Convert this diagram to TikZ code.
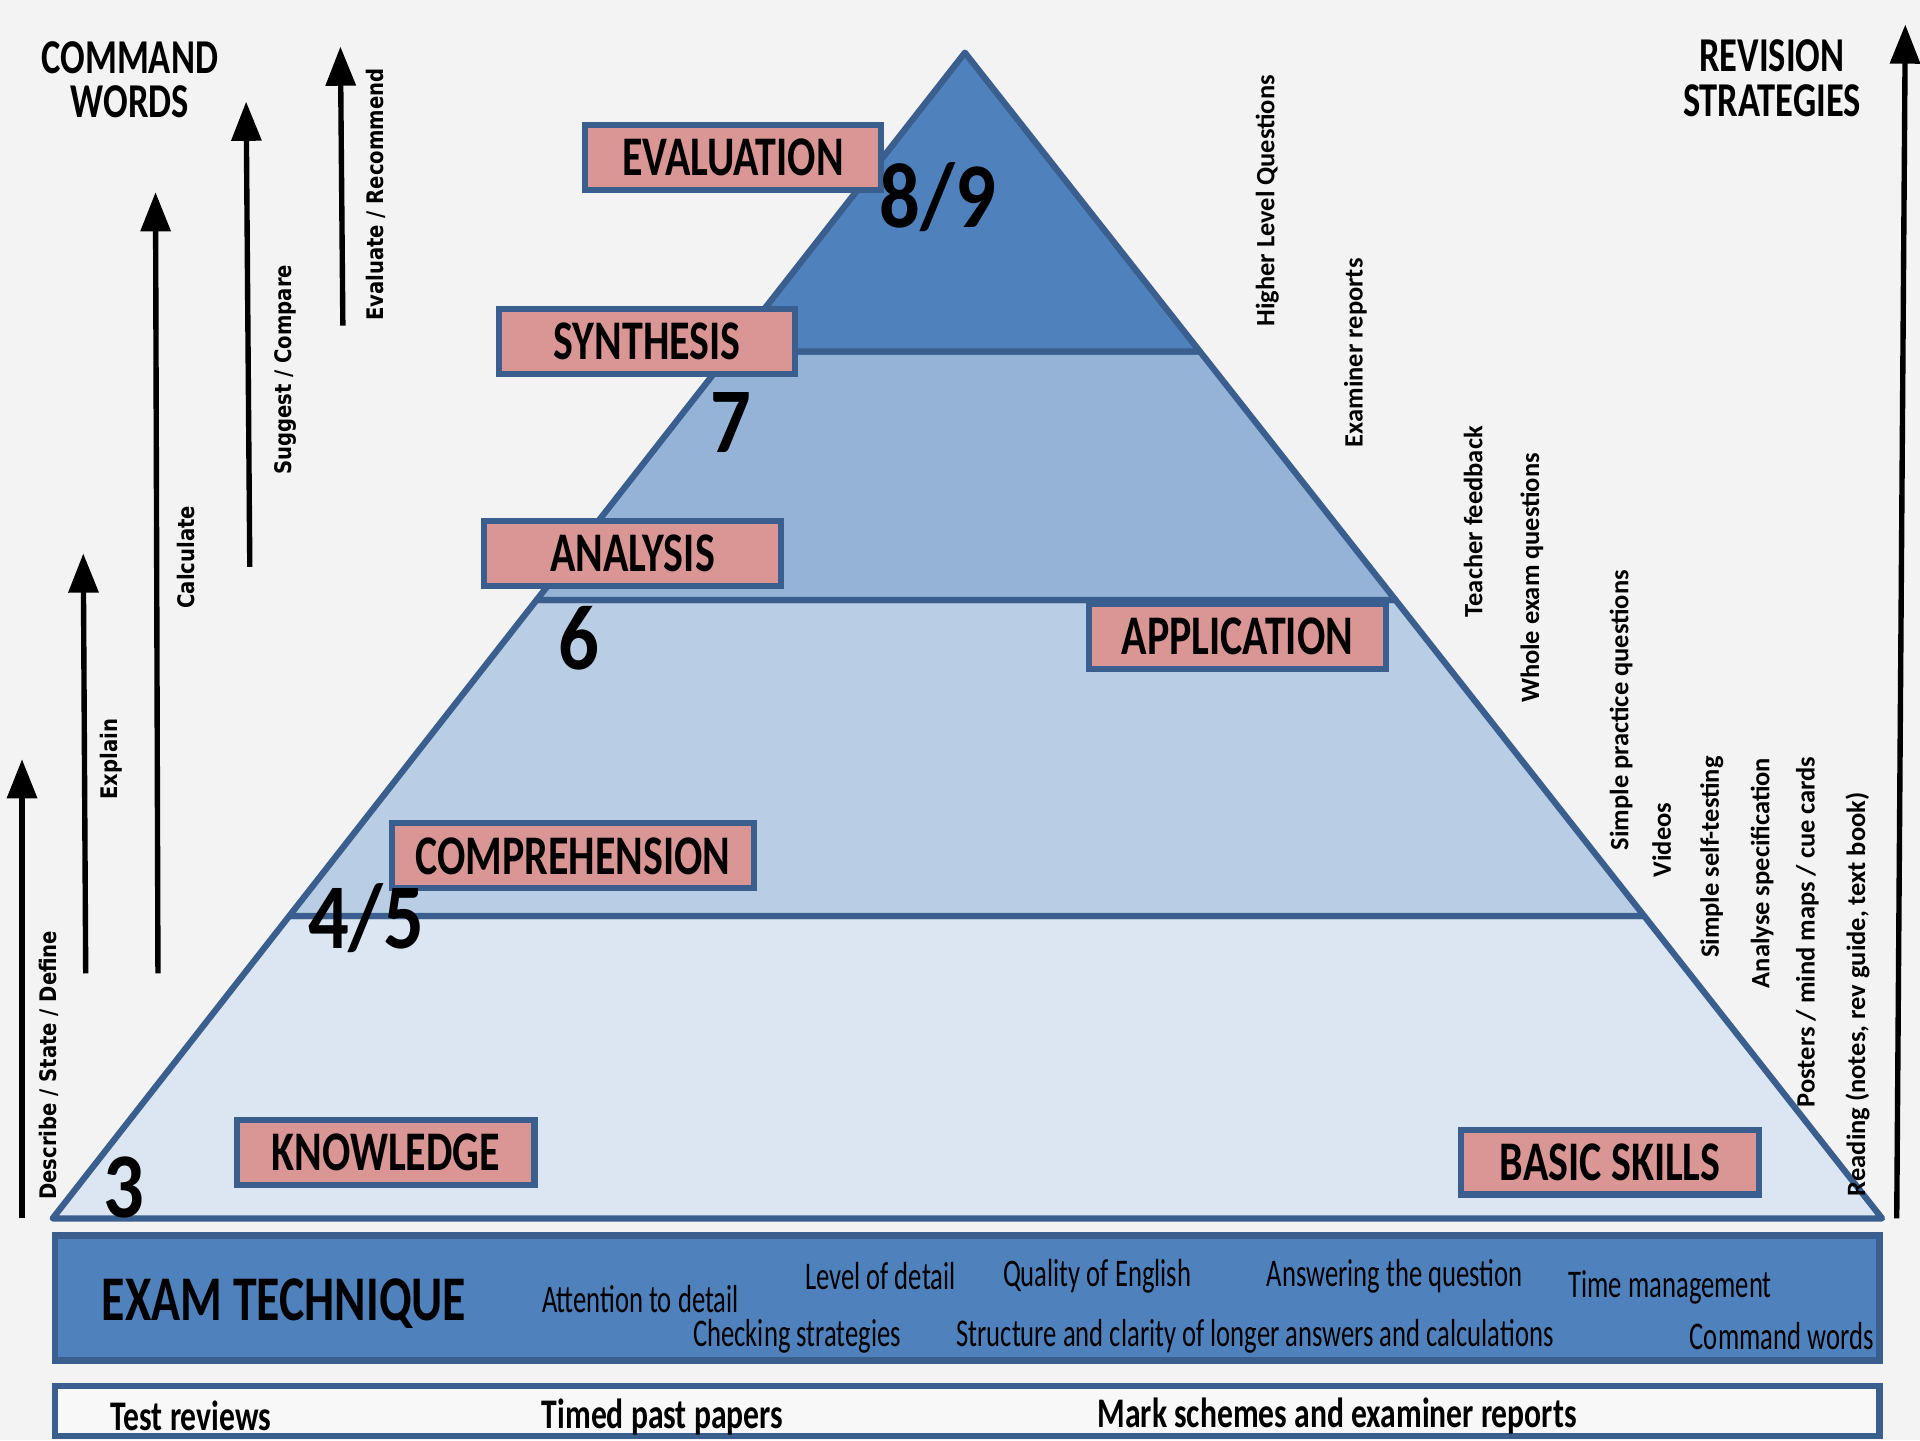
\documentclass[tikz,border=0pt]{standalone}
\usepackage{fontspec}
\setmainfont{Carlito}
\newfontfamily\hfont{Carlito}[FakeStretch=0.75]
\newfontfamily\rfont{Carlito}[FakeStretch=0.68]
\newfontfamily\numfont{Carlito}[FakeStretch=0.87]
\newfontfamily\cmdfont{DejaVu Sans}[FakeStretch=0.86]
\usetikzlibrary{arrows.meta}
\definecolor{bg}{HTML}{F3F3F3}
\definecolor{dark}{HTML}{4F81BD}
\definecolor{mid}{HTML}{95B3D7}
\definecolor{light}{HTML}{B9CDE5}
\definecolor{pale}{HTML}{DCE6F2}
\definecolor{edge}{HTML}{3A5F8F}
\definecolor{pink}{HTML}{D99694}
\tikzset{
  layer/.style={draw=edge, line width=1.45pt, line join=round},
  level/.style={draw=edge, fill=pink, line width=1.4pt, inner sep=0pt,
    minimum height=5.3mm, font=\hfont\bfseries\fontsize{13}{14}\selectfont},
  grade/.style={inner sep=0pt, font=\numfont\bfseries\fontsize{21.5}{24}\selectfont},
  head/.style={inner sep=0pt, align=center, font=\hfont\bfseries\fontsize{11.3}{10.3}\selectfont},
  cmd/.style={rotate=90, inner sep=0pt, font=\cmdfont\bfseries\fontsize{5.3}{6}\selectfont},
  rev/.style={rotate=90, inner sep=0pt, font=\bfseries\fontsize{6.15}{7}\selectfont},
  tech/.style={inner sep=0pt, font=\rfont\fontsize{9.1}{10}\selectfont},
  low/.style={inner sep=0pt, font=\hfont\bfseries\fontsize{9.8}{11}\selectfont},
  arr/.style={line width=1.25pt, -{Triangle[length=3.2mm,width=2.4mm]}},
  band/.style={draw=edge, line width=1.45pt, inner sep=0pt}
}
\begin{document}
\begin{tikzpicture}[x=0.1mm,y=-0.1mm]
\fill[bg] (0,0) rectangle (1568,1176);
\useasboundingbox (0,0) rectangle (1568,1176);

% pyramid layers
\filldraw[layer, fill=pale]  (43,995) -- (236.3,748) -- (1342.7,748) -- (1537,995) -- cycle;
\filldraw[layer, fill=light] (236.3,748) -- (438.2,490) -- (1139.7,490) -- (1342.7,748) -- cycle;
\filldraw[layer, fill=mid]   (438.2,490) -- (597.1,287) -- (979.9,287) -- (1139.7,490) -- cycle;
\filldraw[layer, fill=dark]  (597.1,287) -- (788,43) -- (979.9,287) -- cycle;

% level boxes
\node[level, minimum width=24.2mm] (eval) at (598.5,128.5) {EVALUATION};
\node[level, minimum width=24.2mm] (synt) at (528.5,279) {SYNTHESIS};
\node[level, minimum width=24.2mm] (anal) at (516.5,452) {ANALYSIS};
\node[level, minimum width=24.2mm] (appl) at (1010.5,520) {APPLICATION};
\node[level, minimum width=29.5mm] (comp) at (468,699) {COMPREHENSION};
\node[level, minimum width=24.3mm] (know) at (315,941) {KNOWLEDGE};
\node[level, minimum width=24.3mm] (basic) at (1315,949) {BASIC SKILLS};

% grades
\node[grade] (g89) at (766,161) {8/9};
\node[grade] (g7) at (597,345) {7};
\node[grade] (g6) at (473,521) {6};
\node[grade] (g45) at (299,750) {4/5};
\node[grade] (g3) at (101,970) {3};

% headings
\node[head] (cw) at (106,65) {COMMAND\\WORDS};
\node[head] (rs) at (1447,64) {REVISION\\STRATEGIES};

% arrows
\coordinate (a1s) at (18,995);  \coordinate (a1e) at (18,620);
\coordinate (a2s) at (70,795);  \coordinate (a2e) at (68,452);
\coordinate (a3s) at (129,795); \coordinate (a3e) at (127,157);
\coordinate (a4s) at (204,463); \coordinate (a4e) at (201,83);
\coordinate (a5s) at (280,266); \coordinate (a5e) at (278,38);
\coordinate (a6s) at (1549,995); \coordinate (a6e) at (1556,20);
\draw[arr] (a1s) -- (a1e);
\draw[arr] (a2s) -- (a2e);
\draw[arr] (a3s) -- (a3e);
\draw[arr] (a4s) -- (a4e);
\draw[arr] (a5s) -- (a5e);
\draw[arr] (a6s) -- (a6e);

\node[cmd] (c1) at (40,870) {Describe / State / Define};
\node[cmd] (c2) at (91,620) {Explain};
\node[cmd] (c3) at (152,455) {Calculate};
\node[cmd] (c4) at (233,302) {Suggest / Compare};
\node[cmd] (c5) at (307,159) {Evaluate / Recommend};

% revision strategies
\node[rev] (r1) at (1035,164) {Higher Level Questions};
\node[rev] (r2) at (1107,288) {Examiner reports};
\node[rev] (r3) at (1203,426) {Teacher feedback};
\node[rev] (r4) at (1251,472) {Whole exam questions};
\node[rev] (r5) at (1324,580) {Simple practice questions};
\node[rev] (r6) at (1357,686) {Videos};
\node[rev] (r7) at (1398,700) {Simple self-testing};
\node[rev] (r8) at (1439,713) {Analyse specification};
\node[rev] (r9) at (1476,761) {Posters / mind maps / cue cards};
\node[rev] (r10) at (1517,812) {Reading (notes, rev guide, text book)};

% exam technique band
\node[band, fill=dark, minimum width=149mm, minimum height=10.2mm] (exam) at (790,1060) {};
\node[inner sep=0pt, font=\hfont\bfseries\fontsize{14.8}{16}\selectfont] (et) at (232,1065) {EXAM TECHNIQUE};
\node[tech] (t1) at (523,1061) {Attention to detail};
\node[tech] (t2) at (719,1042) {Level of detail};
\node[tech] (t3) at (896,1042) {Quality of English};
\node[tech] (t4) at (1139,1042) {Answering the question};
\node[tech] (t5) at (1364,1051) {Time management};
\node[tech] (t6) at (651,1091) {Checking strategies};
\node[tech] (t7) at (1025,1091) {Structure and clarity of longer answers and calculations};
\node[tech] (t8) at (1455,1091) {Command words};

% bottom band
\node[band, fill=bg!60!white, minimum width=149mm, minimum height=4.1mm] (bot) at (790,1152.5) {};
\node[low] (b1) at (156,1156) {Test reviews};
\node[low] (b2) at (541,1157) {Timed past papers};
\node[low] (b3) at (1092,1156) {Mark schemes and examiner reports};
\end{tikzpicture}
\end{document}
